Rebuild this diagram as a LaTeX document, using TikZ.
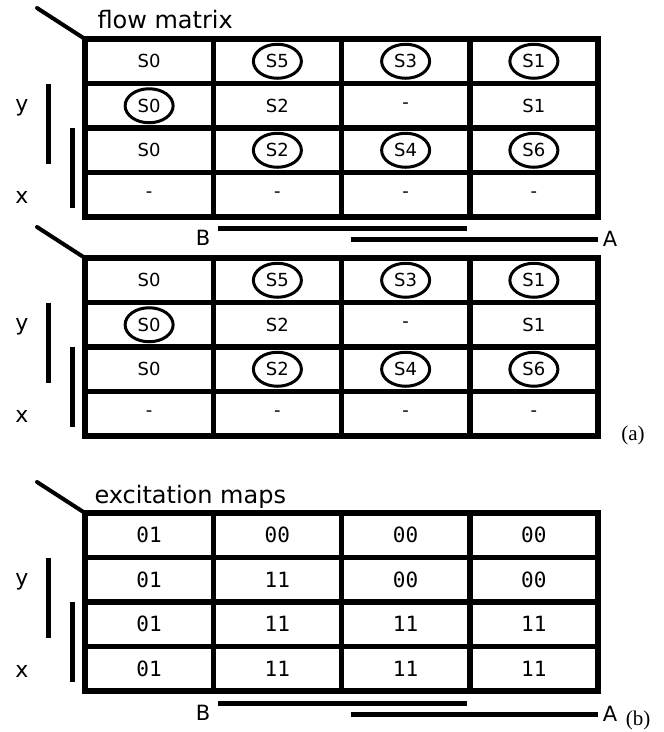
\documentclass[tikz,border=0pt]{standalone}
\usepackage{fontspec}
\usepackage{tikz}
\usetikzlibrary{shapes.geometric}
\newfontfamily\cellfont{DejaVu Sans}
\newfontfamily\digitfont{DejaVu Sans Mono}
\newfontfamily\capfont{Liberation Serif}

\begin{document}
\begin{tikzpicture}[x=1pt, y=-1pt,
	gridline/.style={line width=5.5pt, line cap=rect},
	bar/.style={line width=5pt},
	corner/.style={line width=4pt, line cap=round},
	cell0/.style={font=\cellfont\fontsize{18}{18}\selectfont},
	cell1/.style={cell0, draw, ellipse, line width=3pt, minimum width=48pt, minimum height=34pt, inner sep=0pt},
	exc/.style={font=\digitfont\fontsize{21}{21}\selectfont},
	title/.style={font=\cellfont\fontsize{24}{24}\selectfont, anchor=base west},
	varname/.style={font=\cellfont\fontsize{22}{22}\selectfont},
	ab/.style={font=\cellfont\fontsize{21}{21}\selectfont},
	tag/.style={font=\capfont\fontsize{21}{21}\selectfont}]

	\useasboundingbox (0,0) rectangle (664,732);

	\def\xl{85}
	\def\cw{128.25}
	\def\rh{44.5}
	\pgfmathsetmacro{\xr}{\xl + 4*\cw}

	\def\flowrows{{S0/0,S5/1,S3/1,S1/1},{S0/1,S2/0,-/0,S1/0},{S0/0,S2/1,S4/1,S6/1},{-/0,-/0,-/0,-/0}}
	\def\excrows{{01,00,00,00},{01,11,00,00},{01,11,11,11},{01,11,11,11}}

	% frames of the three maps
	\foreach \t in {39, 258, 513}
		{
			\draw[gridline] (\xl,\t) rectangle (\xr,\t+178);
			\foreach \i in {1, 2, 3}
				{
					\draw[gridline] (\xl+\i*\cw,\t) -- (\xl+\i*\cw,\t+178);
					\draw[gridline] (\xl,\t+\i*\rh) -- (\xr,\t+\i*\rh);
				}
			\draw[corner] (\xl,\t) -- (37,\t-31);
			\draw[bar] (48,\t+45) -- (48,\t+125);
			\draw[bar] (72,\t+89) -- (72,\t+169);
			\node[varname] (y\t) at (22,\t+69) {y};
			\node[varname] (x\t) at (22,\t+158) {x};
		}

	\node[title] (flow) at (\xl+9,28) {flow matrix};
	\node[title] (excit) at (\xl+6,503) {excitation maps};

	% flow matrix, drawn twice
	\foreach \t/\m in {39/a, 258/b}
		\foreach \lst [count=\r] in \flowrows
			\foreach \e/\k [count=\c] in \lst
				\node[cell\k] (\m-\r-\c) at ({\xl+(\c-0.5)*\cw},{\t+(\r-0.5)*\rh}) {\e};

	% excitation maps
	\foreach \lst [count=\r] in \excrows
		\foreach \e [count=\c] in \lst
			\node[exc] (e-\r-\c) at ({\xl+(\c-0.5)*\cw},{513+(\r-0.5)*\rh}) {\e};

	% B and A under the first and last map
	\foreach \t/\m in {217/a, 692/e}
		{
			\draw[bar] (\xl+\cw+5,\t+11) -- (\xl+3*\cw-3,\t+11);
			\draw[bar] (\xl+2*\cw+9,\t+22) -- (\xr,\t+22);
			\node[ab] (B\m) at (203,\t+21) {B};
			\node[ab] (A\m) at (610,\t+22) {A};
		}

	\node[tag] (taga) at (633,435) {(a)};
	\node[tag] (tagb) at (638,720) {(b)};

\end{tikzpicture}
\end{document}
